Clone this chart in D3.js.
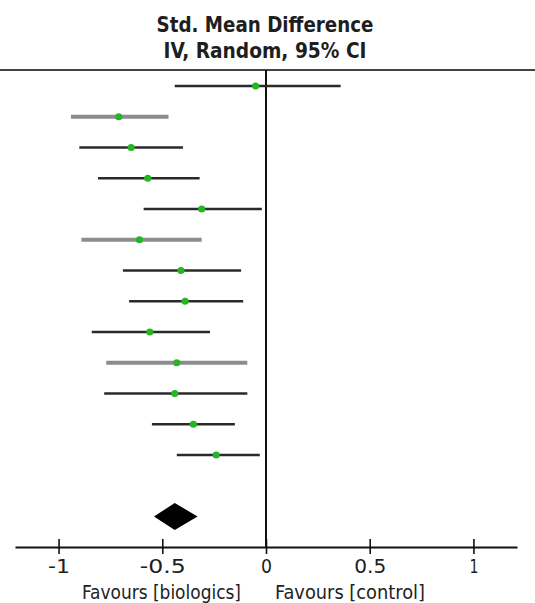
<!DOCTYPE html>
<html>
<head>
<meta charset="utf-8">
<script src="https://cdn.jsdelivr.net/npm/d3@7"></script>
<style>
  body { margin: 0; background: #fff; }
  svg { display: block; }
</style>
</head>
<body>
<svg id="chart" width="535" height="603"></svg>
<script>
// study estimates (std. mean difference, 95% CI)
const studyEst = [-0.05, -0.71, -0.65, -0.57, -0.31, -0.61, -0.41, -0.39, -0.56, -0.43, -0.44, -0.35, -0.24];
const studyLo  = [-0.44, -0.94, -0.90, -0.81, -0.59, -0.89, -0.69, -0.66, -0.84, -0.77, -0.78, -0.55, -0.43];
const studyHi  = [ 0.36, -0.47, -0.40, -0.32, -0.02, -0.31, -0.12, -0.11, -0.27, -0.09, -0.09, -0.15, -0.03];
// pooled result: lower, estimate, upper
const pooled = [-0.54, -0.44, -0.33];
const greyRows = [1, 5, 9];

const xTicks = [-1, -0.5, 0, 0.5, 1];
const tickLabels = ['-1', '-0.5', '0', '0.5', '1'];
const titleLines = ['Std. Mean Difference', 'IV, Random, 95% CI'];
const favourLabels = ['Favours [biologics]', 'Favours [control]'];

const svg = d3.select('#chart');
const width = +svg.attr('width');
const axisY = 547;
const topY = 70;
const font = '"DejaVu Sans Condensed", "DejaVu Sans", sans-serif';

const x = d3.scaleLinear().domain([-1.21, 1.21]).range([15, 517]);
// row index -> y; the pooled diamond sits on row 14
const y = d3.scaleLinear().domain([0, 14]).range([86, 516.5]);

svg.append('rect').attr('width', width).attr('height', 603).attr('fill', '#fff');

// title
svg.selectAll('text.title')
  .data(titleLines)
  .enter()
  .append('text')
  .attr('class', 'title')
  .attr('x', 265)
  .attr('y', (d, i) => i === 0 ? 32 : 58)
  .attr('text-anchor', 'middle')
  .attr('font-family', font)
  .attr('font-weight', 'bold')
  .attr('font-size', '21.5px')
  .attr('fill', '#1e1e1e')
  .attr('textLength', (d, i) => i === 0 ? 217 : 203)
  .attr('lengthAdjust', 'spacingAndGlyphs')
  .text(d => d);

// header rule
svg.append('line')
  .attr('x1', 0).attr('x2', width)
  .attr('y1', topY).attr('y2', topY)
  .attr('stroke', '#444')
  .attr('stroke-width', 2.2);

// line of no effect
svg.append('line')
  .attr('x1', x(0)).attr('x2', x(0))
  .attr('y1', topY).attr('y2', axisY)
  .attr('stroke', '#111')
  .attr('stroke-width', 2);

// confidence intervals
const rows = studyEst.map((d, i) => ({ i, est: d, lo: studyLo[i], hi: studyHi[i] }));
const isGrey = d => greyRows.includes(d.i);

svg.selectAll('line.ci')
  .data(rows)
  .enter()
  .append('line')
  .attr('class', 'ci')
  .attr('x1', d => x(d.lo))
  .attr('x2', d => x(d.hi))
  .attr('y1', d => y(d.i))
  .attr('y2', d => y(d.i))
  .attr('stroke', d => isGrey(d) ? '#8c8c8c' : '#2a2a2a')
  .attr('stroke-width', d => isGrey(d) ? 4 : 2.6);

// point estimates
svg.selectAll('circle.est')
  .data(rows)
  .enter()
  .append('circle')
  .attr('class', 'est')
  .attr('cx', d => x(d.est))
  .attr('cy', d => y(d.i))
  .attr('r', 3.6)
  .attr('fill', '#27b527');

// pooled diamond
const dy = y(14);
svg.append('path')
  .attr('d', `M${x(pooled[0])},${dy}L${x(pooled[1])},${dy - 13.5}L${x(pooled[2])},${dy}L${x(pooled[1])},${dy + 13.5}Z`)
  .attr('fill', '#000');

// x axis
const xAxis = d3.axisBottom(x)
  .tickValues(xTicks)
  .tickFormat((d, i) => tickLabels[i])
  .tickSizeOuter(0)
  .tickSizeInner(8);

const gx = svg.append('g')
  .attr('transform', `translate(0,${axisY})`)
  .call(xAxis);

const tickWidths = [22, 46, 11, 32, 9];

gx.select('.domain').attr('stroke', '#111').attr('stroke-width', 2);
gx.selectAll('.tick line')
  .attr('y1', -8)
  .attr('y2', 7)
  .attr('stroke', '#111')
  .attr('stroke-width', 1.6);
gx.selectAll('.tick text')
  .attr('y', 26)
  .attr('dy', null)
  .attr('font-family', font)
  .attr('font-size', '19px')
  .attr('fill', '#1e1e1e')
  .attr('textLength', (d, i) => tickWidths[i])
  .attr('lengthAdjust', 'spacingAndGlyphs');

// favours labels
svg.selectAll('text.fav')
  .data(favourLabels)
  .enter()
  .append('text')
  .attr('class', 'fav')
  .attr('x', (d, i) => i === 0 ? 241 : 275)
  .attr('y', 599)
  .attr('text-anchor', (d, i) => i === 0 ? 'end' : 'start')
  .attr('font-family', font)
  .attr('font-size', '19.5px')
  .attr('fill', '#222')
  .attr('textLength', (d, i) => i === 0 ? 159 : 150)
  .attr('lengthAdjust', 'spacingAndGlyphs')
  .text(d => d);
</script>
</body>
</html>
